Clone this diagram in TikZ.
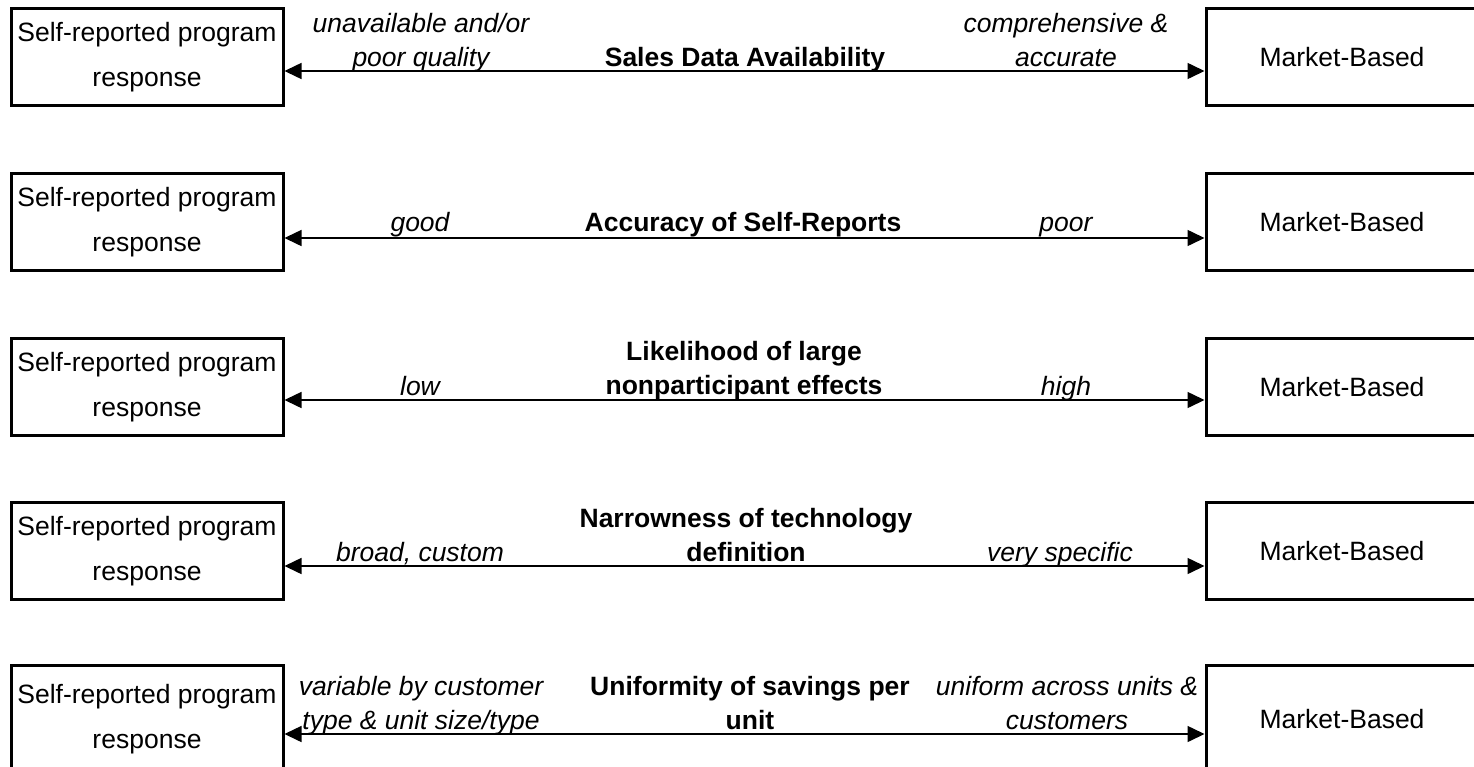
\documentclass[tikz,border=0pt]{standalone}
\usepackage{fontspec}
\setmainfont{Liberation Sans}
\usetikzlibrary{arrows.meta}
\begin{document}
\begin{tikzpicture}[x=1pt,y=-1pt,
  method/.style={draw, line width=3pt, minimum width=272pt, minimum height=97pt,
    inner sep=0pt, align=center, font=\fontsize{26.5}{45}\selectfont},
  endlabel/.style={inner sep=0pt, align=center, anchor=base,
    font=\fontsize{26.5}{34}\selectfont\itshape},
  factor/.style={inner sep=0pt, align=center, anchor=base,
    font=\fontsize{26.5}{34}\selectfont\bfseries},
  scalearrow/.style={draw, line width=1.5pt,
    {Triangle[length=17pt,width=16pt]}-{Triangle[length=17pt,width=16pt]}}
]
\clip (0,0) rectangle (1474,766);

% Row 1: sales data availability
\node[method] (L1) at (147,57) {Self-reported program\\response};
\node[method] (R1) at (1342,57) {Market-Based};
\draw[scalearrow] ([yshift=-14pt]L1.east) -- ([yshift=-14pt]R1.west);
\node[endlabel] (a1) at (421,66) {unavailable and/or\\poor quality};
\node[factor] (f1) at (745,66) {Sales Data Availability};
\node[endlabel] (b1) at (1066,66) {comprehensive \&\\accurate};

% Row 2: accuracy of self-reports
\node[method] (L2) at (147,222) {Self-reported program\\response};
\node[method] (R2) at (1342,222) {Market-Based};
\draw[scalearrow] ([yshift=-16pt]L2.east) -- ([yshift=-16pt]R2.west);
\node[endlabel] (a2) at (420,231) {good};
\node[factor] (f2) at (743,231) {Accuracy of Self-Reports};
\node[endlabel] (b2) at (1066,231) {poor};

% Row 3: nonparticipant effects
\node[method] (L3) at (147,387) {Self-reported program\\response};
\node[method] (R3) at (1342,387) {Market-Based};
\draw[scalearrow] ([yshift=-13pt]L3.east) -- ([yshift=-13pt]R3.west);
\node[endlabel] (a3) at (420,395) {low};
\node[factor] (f3) at (744,394) {Likelihood of large\\nonparticipant effects};
\node[endlabel] (b3) at (1066,395) {high};

% Row 4: technology definition
\node[method] (L4) at (147,551) {Self-reported program\\response};
\node[method] (R4) at (1342,551) {Market-Based};
\draw[scalearrow] ([yshift=-15pt]L4.east) -- ([yshift=-15pt]R4.west);
\node[endlabel] (a4) at (420,561) {broad, custom};
\node[factor] (f4) at (746,561) {Narrowness of technology\\definition};
\node[endlabel] (b4) at (1060,561) {very specific};

% Row 5: savings per unit (boxes run past the lower edge)
\node[method, minimum height=108pt] (L5) at (147,719) {Self-reported program\\response};
\node[method, minimum height=108pt] (R5) at (1342,719) {Market-Based};
\draw[scalearrow] ([yshift=-15pt]L5.east) -- ([yshift=-15pt]R5.west);
\node[endlabel] (a5) at (421,729) {variable by customer\\type \& unit size/type};
\node[factor] (f5) at (750,729) {Uniformity of savings per\\unit};
\node[endlabel] (b5) at (1067,729) {uniform across units \&\\customers};
\end{tikzpicture}
\end{document}
